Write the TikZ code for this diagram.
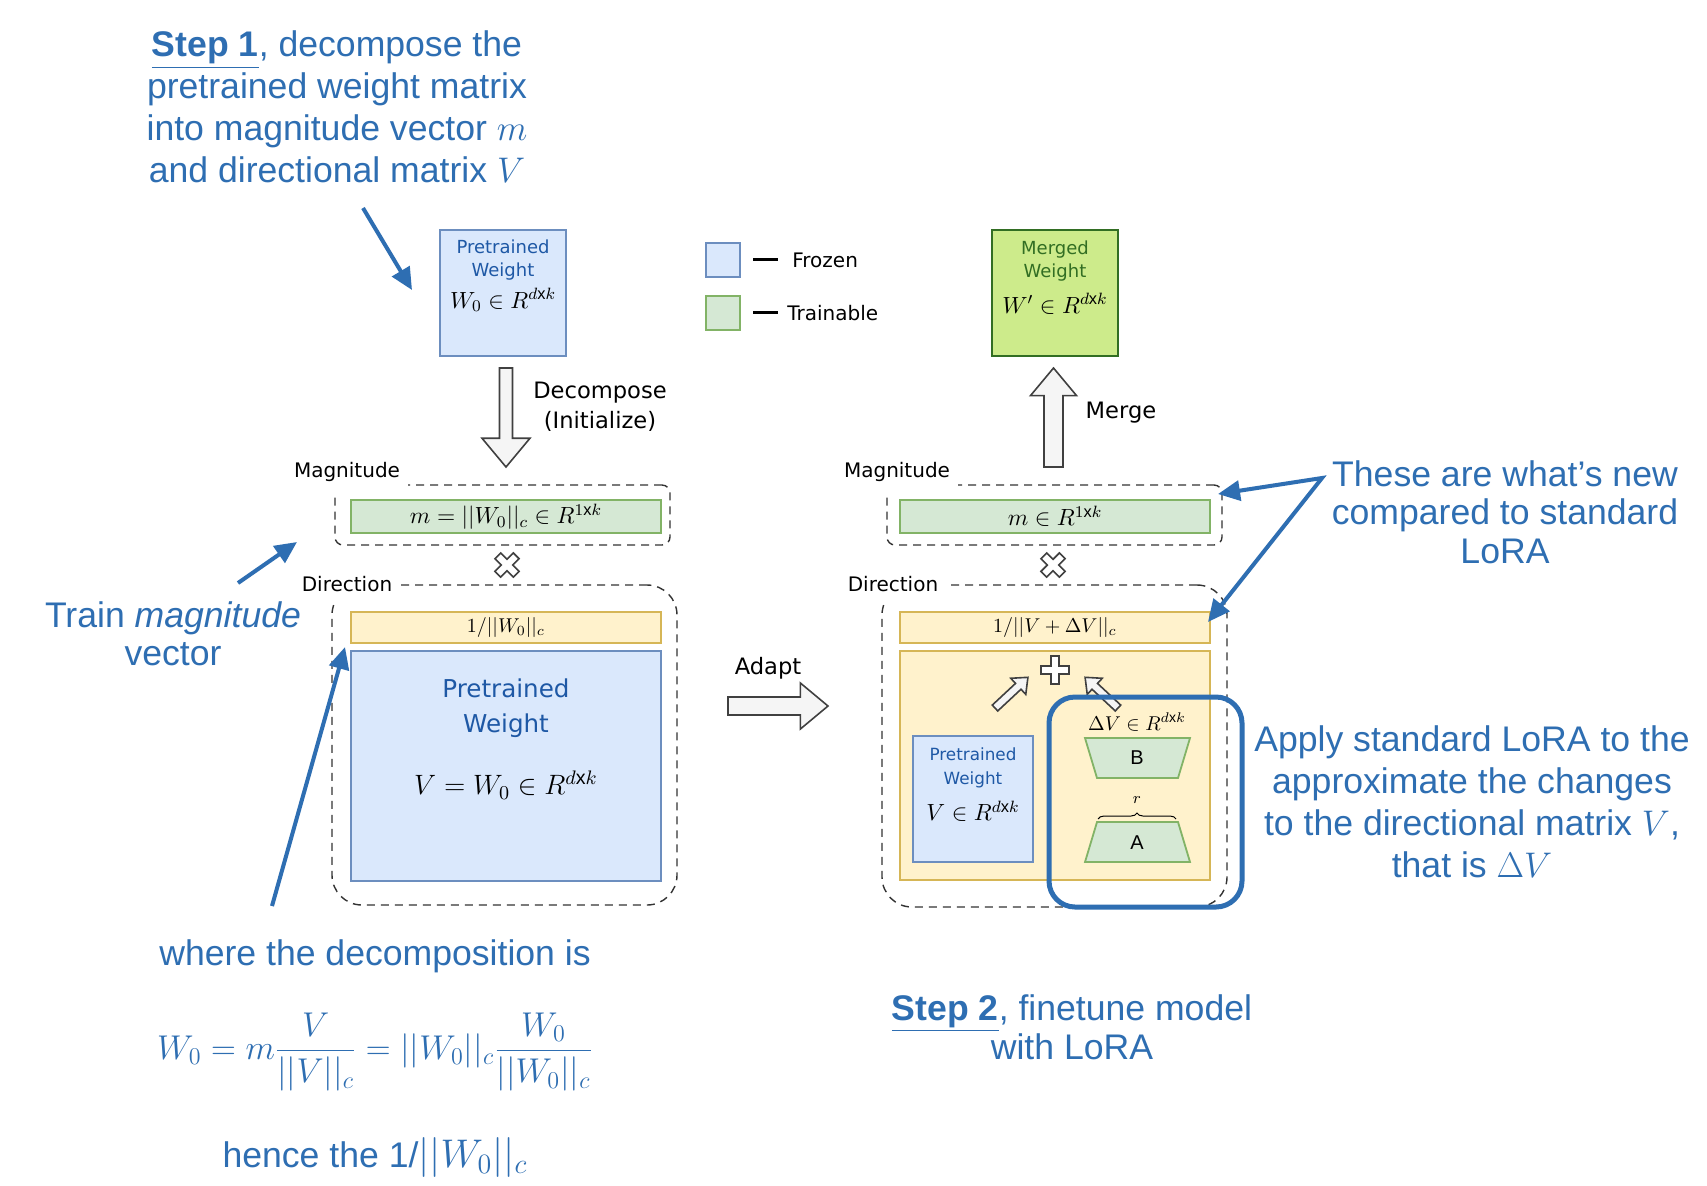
\RequirePackage{fix-cm}
\documentclass[tikz,border=0pt]{standalone}
\usepackage{fontspec}
\setmainfont{Liberation Sans}
\newfontfamily\figfont{DejaVu Sans}
\usetikzlibrary{arrows.meta,decorations.pathreplacing}

\definecolor{notecol}{RGB}{46,110,178}
\definecolor{frozenfill}{HTML}{DAE8FC}
\definecolor{frozenline}{HTML}{6C8EBF}
\definecolor{trainfill}{HTML}{D5E8D4}
\definecolor{trainline}{HTML}{82B366}
\definecolor{normfill}{HTML}{FFF2CC}
\definecolor{normline}{HTML}{D6B656}
\definecolor{mergefill}{HTML}{CDEB8B}
\definecolor{mergeline}{RGB}{50,110,35}
\definecolor{wtext}{RGB}{30,88,165}

% fat hollow arrow: start, angle, length, shaft half width, head half width
\newcommand{\blockarrow}[5]{%
    \draw[hollow, shift={#1}, rotate=#2]
        (0,-#4) -- ({#3-1.2*#5},-#4) -- ({#3-1.2*#5},-#5) -- (#3,0)
        -- ({#3-1.2*#5},#5) -- ({#3-1.2*#5},#4) -- (0,#4) -- cycle;}
% hollow plus / times sign: centre, angle, arm length
\newcommand{\hollowplus}[3]{%
    \draw[hollow, fill=white, shift={#1}, rotate=#2]
        (4,#3) -- (4,4) -- (#3,4) -- (#3,-4) -- (4,-4) -- (4,-#3)
        -- (-4,-#3) -- (-4,-4) -- (-#3,-4) -- (-#3,4) -- (-4,4) -- (-4,#3) -- cycle;}

\begin{document}
\begin{tikzpicture}[x=0.5pt, y=-0.5pt,
    box/.style={inner sep=0pt},
    frozen/.style={draw=frozenline, fill=frozenfill, line width=0.9pt},
    trainable/.style={draw=trainline, fill=trainfill, line width=0.9pt},
    norm/.style={draw=normline, fill=normfill, line width=0.9pt},
    merged/.style={draw=mergeline, fill=mergefill, line width=0.9pt},
    group/.style={draw=black!80, dash pattern=on 4pt off 3pt, line width=0.7pt},
    grouplabel/.style={fill=white, inner xsep=4pt, inner ysep=5pt, font=\figfont\fontsize{10}{12}\selectfont},
    flowlabel/.style={align=center, font=\figfont\fontsize{11.3}{15}\selectfont},
    keylabel/.style={inner sep=0pt, anchor=west, font=\figfont\fontsize{10}{12}\selectfont},
    wlabel/.style={align=center, text=wtext},
    dimlabel/.style={font=\fontsize{11.7}{14}\selectfont},
    hollow/.style={draw=black!75, fill=black!4, line width=0.8pt, line join=miter},
    note/.style={text=notecol, align=center, inner sep=0pt, font=\fontsize{17.8}{20.5}\selectfont},
    callout/.style={draw=notecol, line width=2pt, -{Triangle[length=11pt,width=10pt]}},
    lorabox/.style={draw=notecol, line width=2.5pt, rounded corners=13pt}]

    \path[use as bounding box, fill=white] (0,0) rectangle (1707,1185);

    %% Step 1: decompose
    \node[box, frozen, minimum width=63pt, minimum height=63pt] (w0) at (503,293) {};
    \node[wlabel, font=\figfont\fontsize{9}{11.5}\selectfont] (w0name) at (503,260) {Pretrained\\Weight};
    \node[dimlabel] (w0dim) at (503,300) {$W_0\in R^{d\mathrm{x}k}$};

    \blockarrow{(506,368)}{-90}{99}{6.5}{24}
    \node[flowlabel] (decomp) at (600,407) {Decompose\\(Initialize)};

    \node[box, group, rounded corners=4pt, minimum width=167.5pt, minimum height=30pt] (magboxL) at (502.5,515) {};
    \node[grouplabel] (magL) at (347,472) {Magnitude};
    \node[box, trainable, minimum width=155pt, minimum height=16.5pt, dimlabel] (mL) at (506,516.5) {$m=||W_0||_c\in R^{1\mathrm{x}k}$};

    \hollowplus{(507,565)}{45}{13}

    \node[box, group, rounded corners=15pt, minimum width=172.5pt, minimum height=160pt] (dirboxL) at (504.5,745) {};
    \node[grouplabel] (dirL) at (347,584) {Direction};
    \node[box, norm, minimum width=155pt, minimum height=15.5pt, font=\fontsize{10}{12}\selectfont] (nL) at (506,627.5) {$1/||W_0||_c$};
    \node[box, frozen, minimum width=155pt, minimum height=115pt] (vL) at (506,766) {};
    \node[wlabel, font=\figfont\fontsize{12.3}{17.5}\selectfont] (vLname) at (506,708) {Pretrained\\Weight};
    \node[font=\fontsize{14}{16}\selectfont] (vLdim) at (506,785) {$V=W_0\in R^{d\mathrm{x}k}$};

    %% Adapt
    \blockarrow{(728,706)}{0}{100}{9}{23}
    \node[flowlabel] (adapt) at (768,668) {Adapt};

    %% Legend
    \node[box, frozen, minimum width=17pt, minimum height=17pt] (keyF) at (723,260) {};
    \node[keylabel] (keyFtxt) at (753,260) {\rule[3.3pt]{12.5pt}{1.4pt}\hspace{7pt}Frozen};
    \node[box, trainable, minimum width=17pt, minimum height=17pt] (keyT) at (723,313) {};
    \node[keylabel] (keyTtxt) at (753,313) {\rule[3.3pt]{12.5pt}{1.4pt}\hspace{4.5pt}Trainable};

    %% Step 2: finetune
    \node[box, merged, minimum width=63pt, minimum height=63pt] (wm) at (1055,293) {};
    \node[align=center, text=mergeline, font=\figfont\fontsize{9}{11.5}\selectfont] (wmname) at (1055,261) {Merged\\Weight};
    \node[dimlabel] (wmdim) at (1055,304) {$W'\in R^{d\mathrm{x}k}$};

    \blockarrow{(1053.5,467)}{90}{99}{9.5}{23}
    \node[flowlabel] (merge) at (1121,413) {Merge};

    \node[box, group, rounded corners=4pt, minimum width=167.5pt, minimum height=30pt] (magboxR) at (1054.5,515) {};
    \node[grouplabel] (magR) at (897,472) {Magnitude};
    \node[box, trainable, minimum width=155pt, minimum height=16.5pt, dimlabel] (mR) at (1055,516.5) {$m\in R^{1\mathrm{x}k}$};

    \hollowplus{(1053,565)}{45}{13}

    \node[box, group, rounded corners=15pt, minimum width=172.5pt, minimum height=161pt] (dirboxR) at (1054.5,746) {};
    \node[grouplabel] (dirR) at (893,584) {Direction};
    \node[box, norm, minimum width=155pt, minimum height=15.5pt, font=\fontsize{10}{12}\selectfont] (nR) at (1055,627.5) {$1/||V+\Delta V||_c$};
    \node[box, norm, minimum width=155pt, minimum height=114.5pt] (vR) at (1055,765.5) {};

    \hollowplus{(1055,670)}{0}{14}
    \blockarrow{(995,708)}{43}{45}{4}{11}
    \blockarrow{(1118,708)}{137}{45}{4}{11}

    \node[box, frozen, minimum width=60pt, minimum height=63pt] (vs) at (973,799) {};
    \node[wlabel, font=\figfont\fontsize{8.4}{12}\selectfont] (vsname) at (973,768) {Pretrained\\Weight};
    \node[dimlabel] (vsdim) at (973,811) {$V\in R^{d\mathrm{x}k}$};

    \node[font=\fontsize{10}{12}\selectfont] (dv) at (1137,722) {$\Delta V\in R^{d\mathrm{x}k}$};
    \draw[trainable] (1085,738) -- (1190,738) -- (1178,778) -- (1097,778) -- cycle;
    \node[font=\fontsize{10}{12}\selectfont] (blab) at (1137,758) {B};
    \draw[trainable] (1097,822) -- (1178,822) -- (1190,862) -- (1085,862) -- cycle;
    \node[font=\fontsize{10}{12}\selectfont] (alab) at (1137,843) {A};
    \draw[line width=0.5pt, decorate, decoration={brace, amplitude=3pt}] (1098,819) -- (1176,819);
    \node[font=\fontsize{8}{10}\selectfont] (rlab) at (1137,800) {$r$};

    \node[box, lorabox, minimum width=96.5pt, minimum height=105pt] (lora) at (1145.5,802) {};

    %% Notes
    \node[note, font=\fontsize{17.8}{21}\selectfont] (step1) at (337,107) {\underline{\textbf{Step 1}}, decompose the\\pretrained weight matrix\\into magnitude vector $m$\\and directional matrix $V$};
    \node[note, font=\fontsize{17.8}{19}\selectfont] (trainmag) at (173,634) {Train \textit{magnitude}\\vector};
    \node[note] (decompnote) at (375,956) {where the decomposition is};
    \node[note, font=\fontsize{17.2}{20}\selectfont] (formula) at (375,1052)
        {$\displaystyle W_0=m\frac{V}{||V||_c}=||W_0||_c\frac{W_0}{||W_0||_c}$};
    \node[note] (hence) at (375,1157) {hence the 1/{\fontsize{20}{22}\selectfont$||W_0||_c$}};
    \node[note, font=\fontsize{17.8}{19.5}\selectfont] (step2) at (1072,1027) {\underline{\textbf{Step 2}}, finetune model\\with LoRA};
    \node[note, font=\fontsize{17.8}{19.3}\selectfont] (newnote) at (1505,512) {These are what’s new\\compared to standard\\LoRA};
    \node[note, font=\fontsize{17.8}{21}\selectfont] (loranote) at (1472,802) {Apply standard LoRA to the\\approximate the changes\\to the directional matrix $V$,\\that is $\Delta V$};

    %% Callouts
    \coordinate (c1a) at (363,208);
    \coordinate (c1b) at (412,290);
    \coordinate (c2a) at (238,583);
    \coordinate (c2b) at (297,542);
    \coordinate (c3a) at (272,906);
    \coordinate (c3b) at (345,647);
    \coordinate (apex) at (1322,478);
    \coordinate (c4a) at (1218,494);
    \coordinate (c4b) at (1208,622);
    \draw[callout] (c1a) -- (c1b);
    \draw[callout] (c2a) -- (c2b);
    \draw[callout] (c3a) -- (c3b);
    \draw[callout, {Triangle[length=11pt,width=10pt]}-{Triangle[length=11pt,width=10pt]}] (c4a) -- (apex) -- (c4b);

\end{tikzpicture}
\end{document}
